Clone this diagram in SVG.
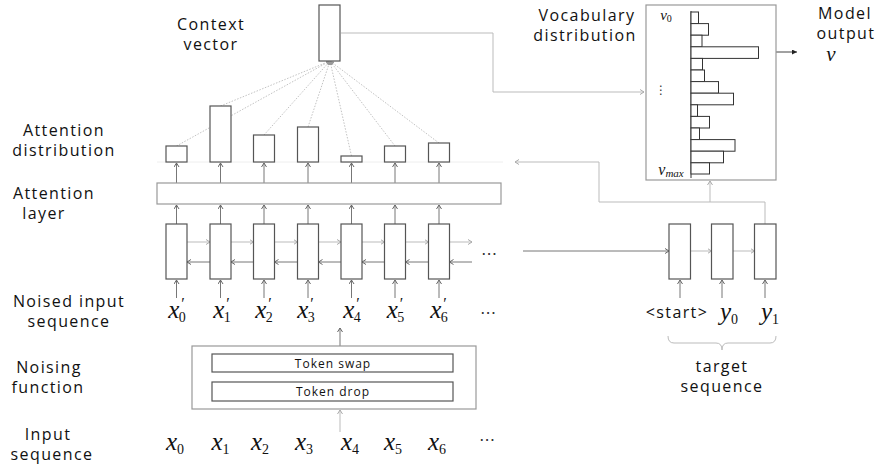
<svg xmlns="http://www.w3.org/2000/svg" width="880" height="468" viewBox="0 0 880 468">
<style>
.lbl{font-family:"Open Sans","DejaVu Sans",sans-serif;font-size:16px;letter-spacing:1.4px;fill:#111;text-anchor:middle}
.sm{font-family:"Open Sans","DejaVu Sans",sans-serif;font-size:12px;letter-spacing:1px;fill:#111;text-anchor:middle}
.m{font-family:"Liberation Serif","DejaVu Serif",serif;font-style:italic;font-size:25px;fill:#111;text-anchor:middle}
.sub{font-style:normal;font-size:14px}
.pr{font-style:normal;font-size:16px}
.dots{font-family:"DejaVu Sans",sans-serif;font-size:16px;fill:#333;text-anchor:middle}
.box{fill:#fff;stroke:#555;stroke-width:1.2}
.lbox{fill:#fff;stroke:#999;stroke-width:1.2}
.bar{fill:#fff;stroke:#333;stroke-width:1}
.up{stroke:#777;stroke-width:1;fill:none;marker-end:url(#ch)}
.lt{stroke:#bbb;stroke-width:1;fill:none;marker-end:url(#chl)}
.dk{stroke:#777;stroke-width:1;fill:none;marker-end:url(#ch)}
.fan{stroke:#bbb;stroke-width:0.9;stroke-dasharray:1.5 1.5;fill:none}
</style>
<defs>
<marker id="ch" viewBox="0 0 4 6" refX="4" refY="3" markerWidth="4" markerHeight="6" orient="auto" markerUnits="userSpaceOnUse"><path d="M0,0.5 L4,3 L0,5.5" fill="none" stroke="#666" stroke-width="1"/></marker>
<marker id="chl" viewBox="0 0 4 6" refX="4" refY="3" markerWidth="4" markerHeight="6" orient="auto" markerUnits="userSpaceOnUse"><path d="M0,0.5 L4,3 L0,5.5" fill="none" stroke="#aaa" stroke-width="1"/></marker>
<marker id="tri" viewBox="0 0 6 6" refX="6" refY="3" markerWidth="5" markerHeight="5" orient="auto" markerUnits="userSpaceOnUse"><path d="M0,0 L6,3 L0,6 Z" fill="#222"/></marker>
<marker id="fanh" viewBox="0 0 4 4" refX="4" refY="2" markerWidth="4" markerHeight="4" orient="auto" markerUnits="userSpaceOnUse"><path d="M0,0 L4,2 L0,4 Z" fill="#999"/></marker>
</defs>

<g id="labels">
<text class="lbl" x="211" y="30">Context</text>
<text class="lbl" x="211" y="50">vector</text>
<text class="lbl" x="64" y="136">Attention</text>
<text class="lbl" x="64" y="156">distribution</text>
<text class="lbl" x="54" y="199">Attention</text>
<text class="lbl" x="44" y="219">layer</text>
<text class="lbl" x="69" y="307">Noised input</text>
<text class="lbl" x="69" y="327">sequence</text>
<text class="lbl" x="49" y="373">Noising</text>
<text class="lbl" x="48" y="393">function</text>
<text class="lbl" x="48" y="440">Input</text>
<text class="lbl" x="52" y="460">sequence</text>
<text class="lbl" x="587" y="21">Vocabulary</text>
<text class="lbl" x="585" y="41">distribution</text>
<text class="lbl" x="845" y="19">Model</text>
<text class="lbl" x="846" y="39">output</text>
<text class="m" x="831" y="61" style="font-size:21px">v</text>
<text class="lbl" x="722" y="372">target</text>
<text class="lbl" x="722" y="392">sequence</text>
</g>

<g id="connectors">
<line x1="157" y1="162" x2="503" y2="162" stroke="#eee" stroke-width="1"/>
<g class="fan">
<line x1="176.5" y1="146" x2="330" y2="61" marker-end="url(#fanh)"/>
<line x1="220.5" y1="106" x2="330" y2="61" marker-end="url(#fanh)"/>
<line x1="264" y1="135" x2="330" y2="61" marker-end="url(#fanh)"/>
<line x1="308" y1="127" x2="330" y2="61" marker-end="url(#fanh)"/>
<line x1="351.5" y1="156" x2="330" y2="61" marker-end="url(#fanh)"/>
<line x1="395" y1="146" x2="330" y2="61" marker-end="url(#fanh)"/>
<line x1="439" y1="143" x2="330" y2="61" marker-end="url(#fanh)"/>
</g>
<path class="lt" d="M341,33 H493 V92 H644"/>
<g class="up">
<line x1="176.5" y1="183" x2="176.5" y2="163"/>
<line x1="220.5" y1="183" x2="220.5" y2="163"/>
<line x1="264" y1="183" x2="264" y2="163"/>
<line x1="308" y1="183" x2="308" y2="163"/>
<line x1="351.5" y1="183" x2="351.5" y2="163"/>
<line x1="395" y1="183" x2="395" y2="163"/>
<line x1="439" y1="183" x2="439" y2="163"/>
</g>
<g class="up">
<line x1="176.5" y1="224" x2="176.5" y2="205"/>
<line x1="220.5" y1="224" x2="220.5" y2="205"/>
<line x1="264" y1="224" x2="264" y2="205"/>
<line x1="308" y1="224" x2="308" y2="205"/>
<line x1="351.5" y1="224" x2="351.5" y2="205"/>
<line x1="395" y1="224" x2="395" y2="205"/>
<line x1="439" y1="224" x2="439" y2="205"/>
</g>
<g class="lt">
<line x1="187" y1="242" x2="210" y2="242"/>
<line x1="231" y1="242" x2="253.5" y2="242"/>
<line x1="274.5" y1="242" x2="297.5" y2="242"/>
<line x1="318.5" y1="242" x2="341" y2="242"/>
<line x1="362" y1="242" x2="384.5" y2="242"/>
<line x1="405.5" y1="242" x2="428.5" y2="242"/>
<line x1="449.5" y1="242" x2="472" y2="242"/>
</g>
<g class="dk">
<line x1="210" y1="262" x2="187" y2="262"/>
<line x1="253.5" y1="262" x2="231" y2="262"/>
<line x1="297.5" y1="262" x2="274.5" y2="262"/>
<line x1="341" y1="262" x2="318.5" y2="262"/>
<line x1="384.5" y1="262" x2="362" y2="262"/>
<line x1="428.5" y1="262" x2="405.5" y2="262"/>
<line x1="472" y1="262" x2="449.5" y2="262"/>
</g>
<g class="up">
<line x1="176.5" y1="298" x2="176.5" y2="280"/>
<line x1="220.5" y1="298" x2="220.5" y2="280"/>
<line x1="264" y1="298" x2="264" y2="280"/>
<line x1="308" y1="298" x2="308" y2="280"/>
<line x1="351.5" y1="298" x2="351.5" y2="280"/>
<line x1="395" y1="298" x2="395" y2="280"/>
<line x1="439" y1="298" x2="439" y2="280"/>
</g>
<line class="dk" x1="523" y1="251" x2="669" y2="251"/>
<line class="lt" x1="690.5" y1="251" x2="711.5" y2="251"/>
<line class="lt" x1="733" y1="251" x2="754.5" y2="251"/>
<g class="up">
<line x1="680" y1="298" x2="680" y2="280"/>
<line x1="722" y1="298" x2="722" y2="280"/>
<line x1="765" y1="298" x2="765" y2="280"/>
</g>
<path class="lt" d="M765,224 V202 H599 V162 H515"/>
<line class="lt" x1="710" y1="202" x2="710" y2="181"/>
<line x1="758" y1="52" x2="797" y2="52" stroke="#444" stroke-width="1" marker-end="url(#tri)"/>
<line class="lt" x1="340" y1="432" x2="340" y2="410"/>
<line class="dk" x1="340" y1="409" x2="340" y2="401.5"/>
<line class="dk" x1="340" y1="382" x2="340" y2="373"/>
<line class="dk" x1="340" y1="354" x2="340" y2="347"/>
<line class="dk" x1="340" y1="346" x2="340" y2="328"/>
<path d="M668,336 Q668,343 674,343 H716 Q722,343 722,350 Q722,343 728,343 H770 Q776,343 776,336" fill="none" stroke="#bbb" stroke-width="1"/>
</g>

<g id="context-vector"><rect class="box" x="319" y="5" width="21" height="56" stroke="#444"/></g>
<g id="attention-distribution">
<rect class="box" x="166" y="146" width="21" height="16"/>
<rect class="box" x="210" y="106" width="21" height="56"/>
<rect class="box" x="253.5" y="135" width="21" height="27"/>
<rect class="box" x="297.5" y="127" width="21" height="35"/>
<rect class="box" x="341" y="156" width="21" height="6"/>
<rect class="box" x="384.5" y="146" width="21" height="16"/>
<rect class="box" x="428.5" y="143" width="21" height="19"/>
</g>
<g id="attention-layer"><rect class="lbox" x="157" y="183" width="344" height="21"/></g>
<g id="encoder">
<rect class="box" x="166" y="224" width="21" height="55"/>
<rect class="box" x="210" y="224" width="21" height="55"/>
<rect class="box" x="253.5" y="224" width="21" height="55"/>
<rect class="box" x="297.5" y="224" width="21" height="55"/>
<rect class="box" x="341" y="224" width="21" height="55"/>
<rect class="box" x="384.5" y="224" width="21" height="55"/>
<rect class="box" x="428.5" y="224" width="21" height="55"/>
<text class="dots" x="489" y="259">⋯</text>
</g>
<g id="decoder">
<rect class="box" x="669" y="224" width="21.5" height="55"/>
<rect class="box" x="711.5" y="224" width="21.5" height="55"/>
<rect class="box" x="754.5" y="224" width="21.5" height="55"/>
</g>
<g id="vocabulary-distribution">
<rect class="lbox" x="646" y="5" width="130" height="175"/>
<line x1="691" y1="11" x2="691" y2="178" stroke="#333" stroke-width="1"/>
<rect class="bar" x="691" y="12" width="7.5" height="11.6"/>
<rect class="bar" x="691" y="23.6" width="17.5" height="11.6"/>
<rect class="bar" x="691" y="35.2" width="11" height="11.6"/>
<rect class="bar" x="691" y="46.8" width="67.5" height="11.6"/>
<rect class="bar" x="691" y="58.4" width="11.5" height="11.6"/>
<rect class="bar" x="691" y="70" width="13.5" height="11.6"/>
<rect class="bar" x="691" y="81.6" width="27.5" height="11.6"/>
<rect class="bar" x="691" y="93.2" width="42.5" height="11.6"/>
<rect class="bar" x="691" y="104.8" width="6.5" height="11.6"/>
<rect class="bar" x="691" y="116.4" width="18.5" height="11.6"/>
<rect class="bar" x="691" y="128" width="8.5" height="11.6"/>
<rect class="bar" x="691" y="139.6" width="44" height="11.6"/>
<rect class="bar" x="691" y="151.2" width="32.5" height="11.6"/>
<rect class="bar" x="691" y="162.8" width="18.5" height="11.2"/>
<text class="m" x="666" y="20" style="font-size:15px">v<tspan class="sub" style="font-size:10px" dy="2">0</tspan></text>
<text class="dots" x="661" y="94" style="font-size:12px">⋮</text>
<text class="m" x="671" y="175" style="font-size:16px">v<tspan style="font-size:11px" dy="2">max</tspan></text>
</g>
<g id="noising-function">
<rect class="lbox" x="192" y="346" width="284" height="63" stroke="#888"/>
<rect class="box" x="212" y="354" width="241" height="18" stroke="#444"/>
<rect class="box" x="212" y="382" width="241" height="19" stroke="#444"/>
<text class="sm" x="333" y="367.5">Token swap</text>
<text class="sm" x="333" y="395.5">Token drop</text>
</g>
<g id="noised-input">
<text class="m" x="177" y="318">x<tspan class="pr" dx="2" dy="-9">′</tspan><tspan class="sub" dx="-6" dy="13">0</tspan></text>
<text class="m" x="222" y="318">x<tspan class="pr" dx="2" dy="-9">′</tspan><tspan class="sub" dx="-6" dy="13">1</tspan></text>
<text class="m" x="264" y="318">x<tspan class="pr" dx="2" dy="-9">′</tspan><tspan class="sub" dx="-6" dy="13">2</tspan></text>
<text class="m" x="306" y="318">x<tspan class="pr" dx="2" dy="-9">′</tspan><tspan class="sub" dx="-6" dy="13">3</tspan></text>
<text class="m" x="352" y="318">x<tspan class="pr" dx="2" dy="-9">′</tspan><tspan class="sub" dx="-6" dy="13">4</tspan></text>
<text class="m" x="395.5" y="318">x<tspan class="pr" dx="2" dy="-9">′</tspan><tspan class="sub" dx="-6" dy="13">5</tspan></text>
<text class="m" x="439" y="318">x<tspan class="pr" dx="2" dy="-9">′</tspan><tspan class="sub" dx="-6" dy="13">6</tspan></text>
<text class="dots" x="488" y="318">⋯</text>
</g>
<g id="input-sequence">
<text class="m" x="175" y="450">x<tspan class="sub" dy="4">0</tspan></text>
<text class="m" x="220.5" y="450">x<tspan class="sub" dy="4">1</tspan></text>
<text class="m" x="260" y="450">x<tspan class="sub" dy="4">2</tspan></text>
<text class="m" x="304" y="450">x<tspan class="sub" dy="4">3</tspan></text>
<text class="m" x="350" y="450">x<tspan class="sub" dy="4">4</tspan></text>
<text class="m" x="393" y="450">x<tspan class="sub" dy="4">5</tspan></text>
<text class="m" x="437" y="450">x<tspan class="sub" dy="4">6</tspan></text>
<text class="dots" x="487" y="445">⋯</text>
</g>
<g id="target-sequence">
<text class="lbl" x="677" y="318">&lt;start&gt;</text>
<text class="m" x="729" y="320">y<tspan class="sub" dy="4">0</tspan></text>
<text class="m" x="770" y="320">y<tspan class="sub" dy="4">1</tspan></text>
</g>
</svg>
